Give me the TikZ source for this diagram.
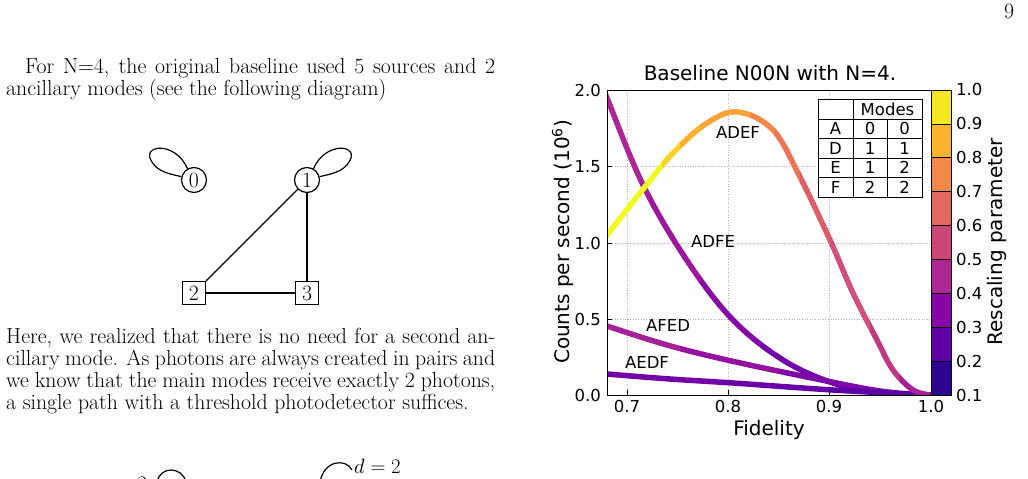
\documentclass[tikz,border=0pt]{standalone}
\usepackage{fontspec}
\newfontfamily\dv{DejaVu Sans}
\begin{document}
\begin{tikzpicture}[x={(1pt,0)},y={(0,-1pt)},
  txt/.style={anchor=base west,inner sep=0,font=\fontsize{21.8}{26}\selectfont},
  cnode/.style={draw,circle,line width=1.2pt,minimum size=25pt,inner sep=0,font=\fontsize{21.8}{26}\selectfont},
  snode/.style={draw,rectangle,line width=1.2pt,minimum size=23pt,inner sep=0,font=\fontsize{21.8}{26}\selectfont},
  edge/.style={line width=1.2pt},
  tick/.style={font=\dv\fontsize{16.5}{18}\selectfont,inner sep=0},
  big/.style={font=\dv\fontsize{20}{22}\selectfont,inner sep=0},
  gridl/.style={gray!60,dotted,line width=0.6pt},
  crv/.style={line width=5.5pt},
  tab/.style={font=\dv\fontsize{16.5}{18}\selectfont,inner sep=0}]
\useasboundingbox (0,0) rectangle (1028,479);
\fill[white] (0,0) rectangle (1028,479);
% plasma colours
\definecolor{cY}{HTML}{F0F921}\definecolor{cYO}{HTML}{FAD22A}\definecolor{cO1}{HTML}{FDB32F}
\definecolor{cO2}{HTML}{FBA238}\definecolor{cO3}{HTML}{F48849}\definecolor{cS1}{HTML}{E97657}
\definecolor{cS2}{HTML}{DD5E66}\definecolor{cP1}{HTML}{D0507A}\definecolor{cP2}{HTML}{C03A83}
\definecolor{cM1}{HTML}{A62098}\definecolor{cM0}{HTML}{AC2694}\definecolor{cM2}{HTML}{9C179E}
\definecolor{cM3}{HTML}{8707A6}\definecolor{cV1}{HTML}{7201A8}\definecolor{cV2}{HTML}{6A00A8}
\definecolor{cV3}{HTML}{5C01A6}\definecolor{cM4}{HTML}{9511A1}\definecolor{cV0}{HTML}{7E03A8}
\definecolor{b1}{HTML}{2C0594}\definecolor{b2}{HTML}{5D01A6}\definecolor{b3}{HTML}{8707A6}
\definecolor{b4}{HTML}{AC2694}\definecolor{b5}{HTML}{CC4778}\definecolor{b6}{HTML}{E3685F}
\definecolor{b7}{HTML}{F48849}\definecolor{b8}{HTML}{FDB32F}\definecolor{b9}{HTML}{F5E626}

% page number
\node[txt] (pg) at (1004,18) {9};
% left text
\node[txt] (l1) at (25,73) {\makebox[470pt][s]{For N=4, the original baseline used 5 sources and 2}};
\node[txt] (l2) at (6,95) {ancillary modes (see the following diagram)};
\node[txt] (l3) at (6,343) {\makebox[489pt][s]{Here, we realized that there is no need for a second an-}};
\node[txt] (l4) at (6,365) {\makebox[489pt][s]{cillary mode. As photons are always created in pairs and}};
\node[txt] (l5) at (6,387) {\makebox[489pt][s]{we know that the main modes receive exactly 2 photons,}};
\node[txt] (l6) at (6,409) {a single path with a threshold photodetector suffices.};

% graph
\node[cnode] (n0) at (194,180) {0};
\node[cnode] (n1) at (307,180) {1};
\node[snode] (n2) at (194,293) {2};
\node[snode] (n3) at (307,293) {3};
\draw[edge] (n1) -- (n2);
\draw[edge] (n1) -- (n3);
\draw[edge] (n2) -- (n3);
\draw[edge] (n0.120) .. controls (175,140) and (140,145) .. (152,162) .. controls (158,172) and (170,174) .. (n0.165);
\draw[edge] (n1.60) .. controls (326,140) and (361,145) .. (349,162) .. controls (343,172) and (331,174) .. (n1.15);

% bottom partial
\node[txt] (a2) at (100,490) {$a=2$};
\draw[edge] (157,482) .. controls (160,466) and (182,466) .. (186,482);
\node[txt] (d2) at (354,473) {$d=2$};
\draw[edge] (320,482) .. controls (324,460) and (346,458) .. (352,470);

% plot
\draw[gridl] (627,90) -- (627,395);
\draw[gridl] (728,90) -- (728,395);
\draw[gridl] (829,90) -- (829,395);
\draw[gridl] (607,319.75) -- (931,319.75);
\draw[gridl] (607,243) -- (931,243);
\draw[gridl] (607,166.25) -- (931,166.25);

\begin{scope}
\clip (607,90) rectangle (931,395);
\foreach \a/\b/\c in {560/640/cM0,640/650/cM1,650/700/cM2,700/760/cM3,760/830/cV1,830/960/cV2}{
 \begin{scope}\clip (\a,0) rectangle (\b,479);
 \draw[crv,\c] plot[smooth,tension=0.6] coordinates {(600,80) (607,98) (644,187) (688,262) (733,320) (783,360) (833,383) (880,393) (931,395) (960,395)};
 \end{scope}}
\foreach \a/\b/\c in {560/680/cM1,680/780/cM4,780/960/cV0}{
 \begin{scope}\clip (\a,0) rectangle (\b,479);
 \draw[crv,\c] plot[smooth,tension=0.6] coordinates {(600,323) (607,326) (667,345) (727,360) (807,377) (880,391) (931,395) (960,395)};
 \end{scope}}
\foreach \a/\b/\c in {560/720/cV1,720/830/cV2,830/960/cV3}{
 \begin{scope}\clip (\a,0) rectangle (\b,479);
 \draw[crv,\c] plot[smooth,tension=0.6] coordinates {(600,373) (607,374) (670,379) (733,383) (833,390) (931,395) (960,395)};
 \end{scope}}
\foreach \a/\b/\c in {560/662/cY,662/680/cYO,680/700/cO1,700/750/cO2,750/775/cO3,775/800/cS1,800/830/cS2,830/870/cP1,870/900/cP2,900/960/cM1}{
 \begin{scope}\clip (\a,0) rectangle (\b,479);
 \draw[crv,\c] plot[smooth,tension=0.6] coordinates {(598,246) (607,235) (640,193) (673,153) (707,123) (738,112) (773,130) (800,177) (830,240) (853,293) (877,340) (893,370) (913,390) (931,395)};
 \end{scope}}
\end{scope}

\node[tick] (tADEF) at (738,132) {ADEF};
\node[tick] (tADFE) at (713,241) {ADFE};
\node[tick] (tAFED) at (668,325) {AFED};
\node[tick] (tAEDF) at (647,362) {AEDF};

% table
\fill[white] (818,99) rectangle (922,197);
\draw[line width=0.8pt] (818,99) rectangle (922,197);
\foreach \yy in {119,138,158,177} \draw[line width=0.8pt] (818,\yy) -- (922,\yy);
\draw[line width=0.8pt] (853,99) -- (853,197);
\draw[line width=0.8pt] (887,119) -- (887,197);
\node[tab] (hm) at (887.5,109) {Modes};
\foreach \r/\yy/\p/\q in {A/128.5/0/0,D/148/1/1,E/167.5/1/2,F/187/2/2}{
 \node[tab] at (835.5,\yy) {\r};
 \node[tab] at (870,\yy) {\p};
 \node[tab] at (904.5,\yy) {\q};}

% frame and ticks
\draw[line width=0.8pt] (607,90) rectangle (931,395);
\foreach \xx/\l in {627/0.7,728/0.8,829/0.9,931/1.0}{
 \draw[line width=0.8pt] (\xx,395) -- (\xx,390);
 \node[tick,anchor=north] at (\xx,400) {\l};}
\foreach \yy/\l in {395/0.0,319.75/0.5,243/1.0,166.25/1.5,90/2.0}{
 \draw[line width=0.8pt] (607,\yy) -- (612,\yy);
 \node[tick,anchor=east] at (601,\yy) {\l};}
\node[big] (xl) at (769,430) {Fidelity};
\node[big,rotate=90] (yl) at (563,242) {Counts per second (10\textsuperscript{6})};
\node[big] (tt) at (770,73) {Baseline N00N with N=4.};

% colorbar
\foreach \i/\c in {0/b1,1/b2,2/b3,3/b4,4/b5,5/b6,6/b7,7/b8,8/b9}{
 \fill[\c] (931,{395-\i*33.89}) rectangle (951,{395-(\i+1)*33.89});}
\foreach \i in {1,...,8} \draw[line width=0.6pt] (931,{395-\i*33.89}) -- (951,{395-\i*33.89});
\draw[line width=0.8pt] (931,90) rectangle (951,395);
\foreach \i/\l in {0/0.1,1/0.2,2/0.3,3/0.4,4/0.5,5/0.6,6/0.7,7/0.8,8/0.9,9/1.0}{
 \node[tick,anchor=west] at (956,{395-\i*33.89}) {\l};}
\node[big,rotate=90] (cl) at (997,242) {Rescaling parameter};
\end{tikzpicture}
\end{document}
